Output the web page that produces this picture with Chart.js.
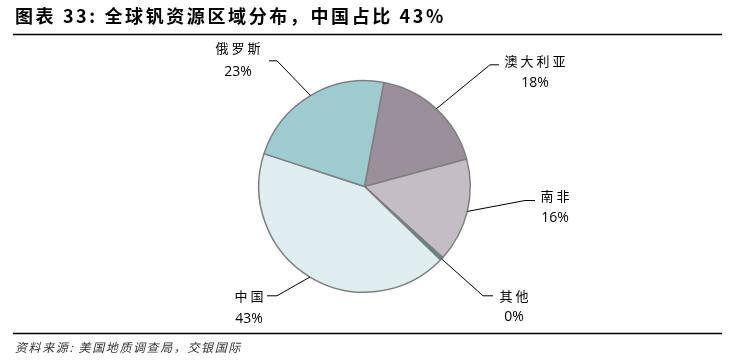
<!DOCTYPE html>
<html>
<head>
<meta charset="utf-8">
<script src="https://cdn.jsdelivr.net/npm/chart.js@4.4.1/dist/chart.umd.min.js"></script>
<style>
  html, body { margin: 0; padding: 0; background: #fff; }
  #wrap { width: 735px; height: 364px; position: relative; }
</style>
</head>
<body>
<div id="wrap"><canvas id="myChart"></canvas></div>
<script>
// data
const regions = ["澳大利亚", "南非", "其他", "中国", "俄罗斯"];
const shares = [18, 16, 0.5, 43, 23];
const shareLabels = ["18%", "16%", "0%", "43%", "23%"];
const sliceColors = ["#9b8f9b", "#c4bdc5", "#4e8a86", "#deedf0", "#9ecbd0"];

const titleText = "图表 33: 全球钒资源区域分布，中国占比 43%";
const sourceText = "资料来源: 美国地质调查局，交银国际";

// callout layout, offsets from the pie centre (elbow, tail, text centre)
const callouts = [
  { elbow: [125.5, -121.7], tail: 9, text: [170.5, -125], gap: 21.5 },
  { elbow: [160.5, 14], tail: 10, text: [190.5, 9.3], gap: 22 },
  { elbow: [118.5, 109.3], tail: 10, text: [149.5, 110], gap: 20.5 },
  { elbow: [-87.5, 109.3], tail: -10, text: [-115.5, 109.3], gap: 23 },
  { elbow: [-87.5, -125.7], tail: -8, text: [-126.5, -138.7], gap: 24 },
];

const decorPlugin = {
  id: "decor",
  afterDraw(chart) {
    const ctx = chart.ctx;
    ctx.save();

    // title
    ctx.fillStyle = "#000";
    ctx.font = "bold 18px 'Noto Sans CJK SC'";
    ctx.textBaseline = "middle";
    ctx.textAlign = "left";
    ctx.letterSpacing = "2.6px";
    ctx.fillText(titleText, 15, 16);

    // rules
    ctx.letterSpacing = "0px";
    ctx.strokeStyle = "#000";
    ctx.lineWidth = 1.5;
    ctx.beginPath();
    ctx.moveTo(13, 34.5);
    ctx.lineTo(722, 34.5);
    ctx.moveTo(13, 333.5);
    ctx.lineTo(722, 333.5);
    ctx.stroke();

    // source
    ctx.fillStyle = "#333";
    ctx.font = "italic 12px 'Noto Sans CJK SC'";
    ctx.letterSpacing = "1.6px";
    ctx.fillText(sourceText, 15, 347);

    // callouts
    const meta = chart.getDatasetMeta(0);
    ctx.lineWidth = 1;
    ctx.strokeStyle = "#000";
    meta.data.forEach((arc, i) => {
      const c = callouts[i];
      const mid = (arc.startAngle + arc.endAngle) / 2;
      const sx = arc.x + Math.cos(mid) * arc.outerRadius;
      const sy = arc.y + Math.sin(mid) * arc.outerRadius;
      const ex = arc.x + c.elbow[0];
      const ey = arc.y + c.elbow[1];
      ctx.beginPath();
      ctx.moveTo(sx, sy);
      ctx.lineTo(ex, ey);
      ctx.lineTo(ex + c.tail, ey);
      ctx.stroke();

      const tx = arc.x + c.text[0];
      const ty = arc.y + c.text[1];
      ctx.textAlign = "center";
      ctx.fillStyle = "#000";
      ctx.font = "13px 'Noto Sans CJK SC'";
      ctx.letterSpacing = "3px";
      ctx.fillText(regions[i], tx + 1.5, ty);
      ctx.font = "14px 'Open Sans'";
      ctx.letterSpacing = "0px";
      ctx.fillText(shareLabels[i], tx, ty + c.gap);
    });

    ctx.restore();
  },
};

const cfg = {
  type: "pie",
  data: {
    labels: regions,
    datasets: [
      {
        data: shares,
        backgroundColor: sliceColors,
        borderColor: "#7f7f7f",
        borderWidth: 1.5,
      },
    ],
  },
  options: {
    responsive: true,
    maintainAspectRatio: false,
    animation: false,
    rotation: 10.5,
    layout: {
      padding: { top: 80, bottom: 71, left: 0, right: 6 },
    },
    plugins: {
      legend: { display: false },
      tooltip: { enabled: false },
    },
  },
  plugins: [decorPlugin],
};

new Chart(document.getElementById("myChart"), cfg);
</script>
</body>
</html>
